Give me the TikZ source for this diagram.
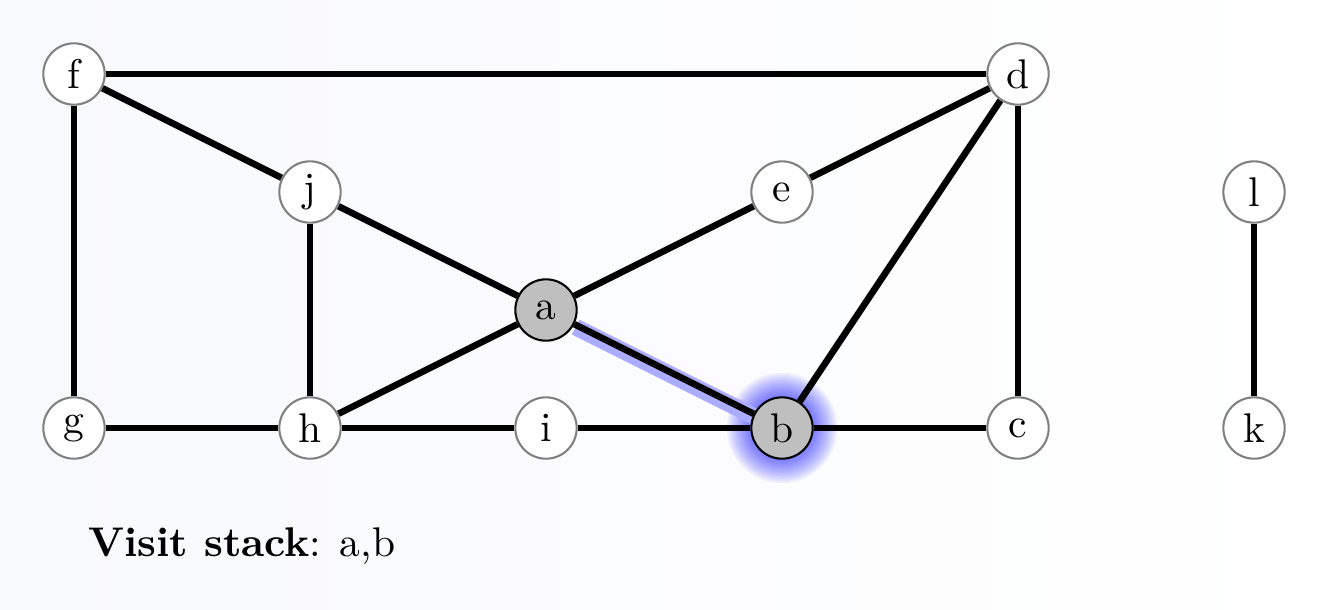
\documentclass[tikz,border=0pt]{standalone}
\usepackage{tikz}
\usetikzlibrary{positioning}
\definecolor{slidebg}{RGB}{248,249,252}
\pgfdeclarelayer{bglayer}
\pgfdeclarelayer{edgelayer}
\pgfsetlayers{bglayer,edgelayer,main}

\begin{document}
\begin{tikzpicture}[
    vertex/.style={circle, draw=black!50, line width=0.5pt, fill=white, minimum size=0.52cm, inner sep=1pt},
    visited/.style={vertex, draw=black, fill=black!25},
    edge_line/.style={line width=1.6pt, draw=black},
    tree_edge/.style={line width=4pt, draw=blue!33, transform canvas={shift={(0.3pt,-0.7pt)}}},
    glow_ring/.style={fill=blue, opacity=0.055}
]

    \useasboundingbox (-0.627,-1.534) rectangle (10.644,3.627);

    % Vertices of the graph
    \node[vertex] (f) at (0,3) {f};
    \node[vertex] (d) at (8,3) {d};
    \node[vertex] (j) at (2,2) {j};
    \node[vertex] (e) at (6,2) {e};
    \node[vertex] (l) at (10,2) {l};
    \node[visited] (a) at (4,1) {a};
    \node[vertex] (g) at (0,0) {g};
    \node[vertex] (h) at (2,0) {h};
    \node[vertex] (i) at (4,0) {i};
    \node[visited] (b) at (6,0) {b};
    \node[vertex] (c) at (8,0) {c};
    \node[vertex] (k) at (10,0) {k};

    % Stack label below the graph
    \node[anchor=west] (stack) at (0,-1) {\textbf{Visit stack}: a,b};

    % Slide background and glow round the current vertex
    \begin{pgfonlayer}{bglayer}
        \shade[left color=slidebg, right color=white] (-0.627,-1.534) rectangle (10.644,3.627);
        \foreach \r in {0.27,0.288,...,0.47}
            \fill[glow_ring] (b.center) circle (\r);
    \end{pgfonlayer}

    % Edges
    \begin{pgfonlayer}{edgelayer}
        \draw[tree_edge] (a) -- (b);
        \draw[edge_line] (f) -- (d);
        \draw[edge_line] (f) -- (j);
        \draw[edge_line] (f) -- (g);
        \draw[edge_line] (j) -- (a);
        \draw[edge_line] (j) -- (h);
        \draw[edge_line] (e) -- (d);
        \draw[edge_line] (a) -- (e);
        \draw[edge_line] (a) -- (h);
        \draw[edge_line] (a) -- (b);
        \draw[edge_line] (d) -- (b);
        \draw[edge_line] (d) -- (c);
        \draw[edge_line] (g) -- (h);
        \draw[edge_line] (h) -- (i);
        \draw[edge_line] (i) -- (b);
        \draw[edge_line] (b) -- (c);
        \draw[edge_line] (l) -- (k);
    \end{pgfonlayer}

\end{tikzpicture}
\end{document}
